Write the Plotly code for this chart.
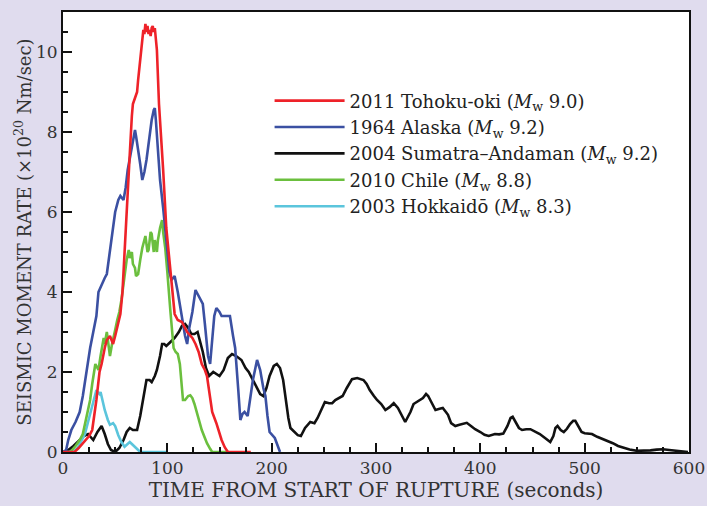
import plotly.graph_objects as go

# ---- data (time in seconds, moment rate in 1e20 Nm/s) ----
tohoku_t = [0, 11, 15, 20, 25, 28, 32, 35, 37, 40, 42, 45, 48, 50, 53, 55, 57, 58, 60, 61, 63, 64, 66, 67, 69, 71, 72, 74, 75, 76, 77, 78, 79, 80, 81, 82, 83, 84, 85, 86, 87, 88, 89, 90, 92, 94, 96, 99, 103, 107, 110, 114, 119, 124, 127, 130, 133, 136, 138, 141, 143, 147, 150, 152, 155, 158, 180]
tohoku_v = [0, 0, 0.1, 0.25, 0.4, 0.55, 1.3, 2.0, 2.2, 2.6, 2.8, 2.9, 2.7, 2.9, 3.2, 3.45, 4.0, 4.45, 5.5, 6.1, 7.0, 7.45, 8.4, 8.7, 8.85, 9.0, 9.3, 9.8, 10.1, 10.3, 10.55, 10.45, 10.7, 10.5, 10.65, 10.45, 10.55, 10.4, 10.6, 10.65, 10.5, 10.6, 10.3, 10.05, 8.7, 7.9, 7.05, 5.6, 4.45, 3.45, 3.3, 3.25, 3.0, 2.85, 2.7, 2.5, 2.2, 2.05, 1.9, 1.4, 1.0, 0.72, 0.45, 0.3, 0.12, 0, 0]

alaska_t = [0, 3, 5, 8, 12, 16, 19, 23, 26, 29, 32, 34, 37, 40, 42, 45, 48, 50, 53, 55, 58, 60, 62, 65, 67, 69, 70, 72, 74, 76, 78, 80, 83, 85, 87, 88, 89, 91, 93, 96, 98, 100, 102, 104, 107, 110, 114, 117, 119, 121, 124, 127, 129, 131, 134, 136, 139, 141, 143, 145, 147, 150, 152, 156, 160, 163, 165, 168, 170, 172, 174, 177, 180, 182, 186, 189, 192, 194, 196, 198, 203, 206, 208]
alaska_v = [0, 0.05, 0.3, 0.55, 0.75, 1.0, 1.4, 2.1, 2.6, 3.0, 3.4, 4.0, 4.2, 4.35, 4.45, 5.0, 5.5, 6.0, 6.3, 6.4, 6.3, 6.6, 7.05, 7.5, 7.8, 8.05, 7.9, 7.6, 7.2, 6.8, 7.0, 7.3, 7.9, 8.3, 8.55, 8.6, 8.3, 7.5, 6.8, 6.1, 5.5, 5.0, 4.5, 4.3, 4.4, 4.0, 3.3, 2.9, 2.7, 3.1, 3.5, 4.05, 3.95, 3.85, 3.7, 3.2, 2.4, 2.2, 2.8, 3.4, 3.6, 3.5, 3.4, 3.4, 3.4, 2.9, 2.6, 1.55, 0.8, 0.95, 1.0, 0.9, 1.4, 1.8, 2.3, 2.05, 1.6, 1.4, 0.9, 0.5, 0.35, 0.15, 0]

sumatra_t = [0, 5, 10, 16, 20, 24, 27, 29, 33, 37, 40, 43, 46, 50, 54, 58, 61, 64, 67, 71, 74, 76, 78, 80, 83, 85, 88, 90, 93, 95, 97, 99, 103, 107, 111, 114, 117, 120, 123, 126, 129, 131, 134, 137, 140, 144, 147, 150, 154, 158, 162, 166, 171, 175, 178, 182, 186, 189, 192, 195, 198, 202, 205, 208, 211, 214, 216, 218, 222, 225, 228, 232, 237, 241, 244, 248, 251, 255, 258, 261, 264, 268, 272, 277, 282, 288, 291, 294, 298, 301, 305, 309, 313, 317, 321, 325, 328, 331, 333, 336, 339, 342, 345, 348, 350, 352, 355, 357, 361, 364, 367, 369, 372, 376, 380, 384, 387, 391, 395, 400, 404, 408, 411, 414, 418, 422, 426, 429, 431, 434, 437, 440, 444, 448, 452, 457, 462, 467, 470, 472, 474, 477, 480, 483, 486, 489, 491, 494, 497, 500, 504, 507, 512, 518, 522, 527, 532, 537, 543, 550, 557, 563, 569, 575, 581, 588, 594, 599]
sumatra_v = [0, 0.05, 0.15, 0.3, 0.4, 0.45, 0.35, 0.3, 0.5, 0.65, 0.45, 0.2, 0.05, 0, 0.1, 0.3, 0.5, 0.6, 0.55, 0.55, 0.9, 1.2, 1.6, 1.8, 1.8, 1.75, 1.9, 2.05, 2.4, 2.7, 2.7, 2.65, 2.75, 2.85, 3.0, 3.15, 3.2, 3.1, 2.95, 2.95, 3.0, 2.8, 2.5, 2.1, 1.9, 2.0, 1.95, 1.9, 2.05, 2.35, 2.45, 2.4, 2.3, 2.1, 2.0, 1.8, 1.6, 1.45, 1.4, 1.6, 1.9, 2.15, 2.2, 2.1, 1.8, 1.2, 0.85, 0.6, 0.5, 0.42, 0.4, 0.6, 0.75, 0.72, 0.85, 1.1, 1.25, 1.22, 1.22, 1.3, 1.35, 1.4, 1.6, 1.82, 1.85, 1.8, 1.7, 1.55, 1.4, 1.3, 1.2, 1.05, 1.12, 1.22, 1.1, 0.9, 0.75, 0.9, 1.0, 1.2, 1.25, 1.3, 1.35, 1.45, 1.4, 1.3, 1.15, 1.05, 1.08, 1.1, 1.0, 0.93, 0.72, 0.65, 0.68, 0.72, 0.73, 0.65, 0.57, 0.5, 0.43, 0.4, 0.43, 0.45, 0.44, 0.46, 0.65, 0.85, 0.88, 0.75, 0.6, 0.55, 0.57, 0.57, 0.52, 0.45, 0.35, 0.25, 0.4, 0.6, 0.65, 0.55, 0.5, 0.58, 0.7, 0.78, 0.78, 0.65, 0.5, 0.47, 0.45, 0.45, 0.38, 0.32, 0.28, 0.22, 0.15, 0.1, 0.06, 0.03, 0.03, 0.04, 0.06, 0.07, 0.05, 0.03, 0.01, 0]

chile_t = [0, 7, 12, 16, 19, 22, 24, 26, 28, 30, 31, 33, 34, 36, 38, 39, 40, 42, 43, 45, 47, 49, 50, 52, 54, 56, 58, 59, 61, 63, 64, 66, 67, 69, 70, 72, 73, 74, 76, 78, 79, 80, 81, 82, 83, 84, 85, 86, 87, 88, 89, 90, 91, 92, 93, 94, 95, 96, 98, 100, 101, 103, 106, 108, 110, 112, 114, 115, 117, 120, 122, 124, 126, 128, 131, 133, 136, 138, 141, 143, 159]
chile_v = [0, 0, 0.15, 0.3, 0.45, 0.8, 1.0, 1.3, 1.7, 2.0, 2.2, 2.1, 2.05, 2.4, 2.75, 2.85, 2.7, 3.0, 2.8, 2.4, 2.7, 2.9, 3.05, 3.3, 3.5, 3.8, 4.2, 4.45, 4.8, 5.05, 4.85, 5.0, 4.7, 4.6, 4.4, 4.45, 4.7, 4.8, 5.1, 5.3, 5.4, 5.2, 5.0, 5.05, 5.4, 5.5, 5.45, 5.2, 5.0, 5.3, 5.1, 5.0, 5.3, 5.5, 5.6, 5.7, 5.8, 5.5, 5.1, 4.5, 4.1, 3.5, 2.6, 2.5, 2.45, 2.2, 1.6, 1.3, 1.3, 1.4, 1.42, 1.35, 1.2, 1.0, 0.7, 0.55, 0.35, 0.22, 0.08, 0, 0]

hokkaido_t = [0, 10, 14, 18, 21, 24, 26, 28, 30, 32, 33, 35, 36, 38, 40, 43, 45, 48, 50, 53, 56, 59, 62, 64, 66, 69, 72, 74, 100]
hokkaido_v = [0, 0, 0.1, 0.3, 0.45, 0.75, 0.95, 1.1, 1.35, 1.55, 1.5, 1.45, 1.5, 1.25, 1.05, 0.8, 0.68, 0.72, 0.65, 0.42, 0.25, 0.13, 0.2, 0.25, 0.2, 0.13, 0.05, 0, 0]

names = {
    "tohoku": "2011 Tohoku-oki (<i>M</i><sub>w</sub> 9.0)",
    "alaska": "1964 Alaska (<i>M</i><sub>w</sub> 9.2)",
    "sumatra": "2004 Sumatra–Andaman (<i>M</i><sub>w</sub> 9.2)",
    "chile": "2010 Chile (<i>M</i><sub>w</sub> 8.8)",
    "hokkaido": "2003 Hokkaidō (<i>M</i><sub>w</sub> 8.3)",
}
colors = {"tohoku": "#ee2229", "alaska": "#3b50a2", "sumatra": "#111111",
          "chile": "#6bbf3e", "hokkaido": "#5bc5dc"}

series = [  # draw order
    ("sumatra", sumatra_t, sumatra_v, 3),
    ("hokkaido", hokkaido_t, hokkaido_v, 5),
    ("chile", chile_t, chile_v, 4),
    ("alaska", alaska_t, alaska_v, 2),
    ("tohoku", tohoku_t, tohoku_v, 1),
]

fig = go.Figure()
for key, t, v, rank in series:
    fig.add_trace(go.Scatter(x=t, y=v, mode="lines", name=names[key],
                             line=dict(color=colors[key], width=2.6),
                             legendrank=rank))

font_family = "DejaVu Serif"
fig.update_layout(
    width=707, height=506,
    paper_bgcolor="#e0dcee", plot_bgcolor="white",
    margin=dict(l=63, r=18, t=12, b=54),
    font=dict(family=font_family, color="#333333", size=18),
    showlegend=True,
    legend=dict(x=0.33, y=0.84, xanchor="left", yanchor="top",
                bgcolor="rgba(0,0,0,0)", font=dict(size=18, color="#222222"),
                itemwidth=70, tracegroupgap=0),
)
fig.update_xaxes(range=[0, 600], dtick=100, tick0=0, ticks="inside", ticklen=9,
                 tickwidth=1.5, tickcolor="#111", showline=True, linecolor="#111",
                 linewidth=2, mirror=True, showgrid=False, zeroline=False,
                 automargin=False, tickfont=dict(size=17),
                 minor=dict(dtick=25, ticks="inside", ticklen=5, tickwidth=1.5, tickcolor="#111", showgrid=False),
                 title=dict(text="TIME FROM START OF RUPTURE (seconds)", font=dict(size=20), standoff=0))
fig.update_yaxes(range=[0, 11], dtick=2, tick0=0, ticks="inside", ticklen=9,
                 tickwidth=1.5, tickcolor="#111", showline=True, linecolor="#111",
                 linewidth=2, mirror=True, showgrid=False, zeroline=False,
                 automargin=False, tickfont=dict(size=17),
                 minor=dict(dtick=0.5, ticks="inside", ticklen=5, tickwidth=1.5, tickcolor="#111", showgrid=False),
                 title=dict(text="SEISMIC MOMENT RATE (×10<sup>20</sup> Nm/sec)", font=dict(size=18), standoff=0))

fig.write_html("out.html", config={"displayModeBar": False},
               post_script="document.body.style.margin='0';document.body.style.background='#e0dcee';")
